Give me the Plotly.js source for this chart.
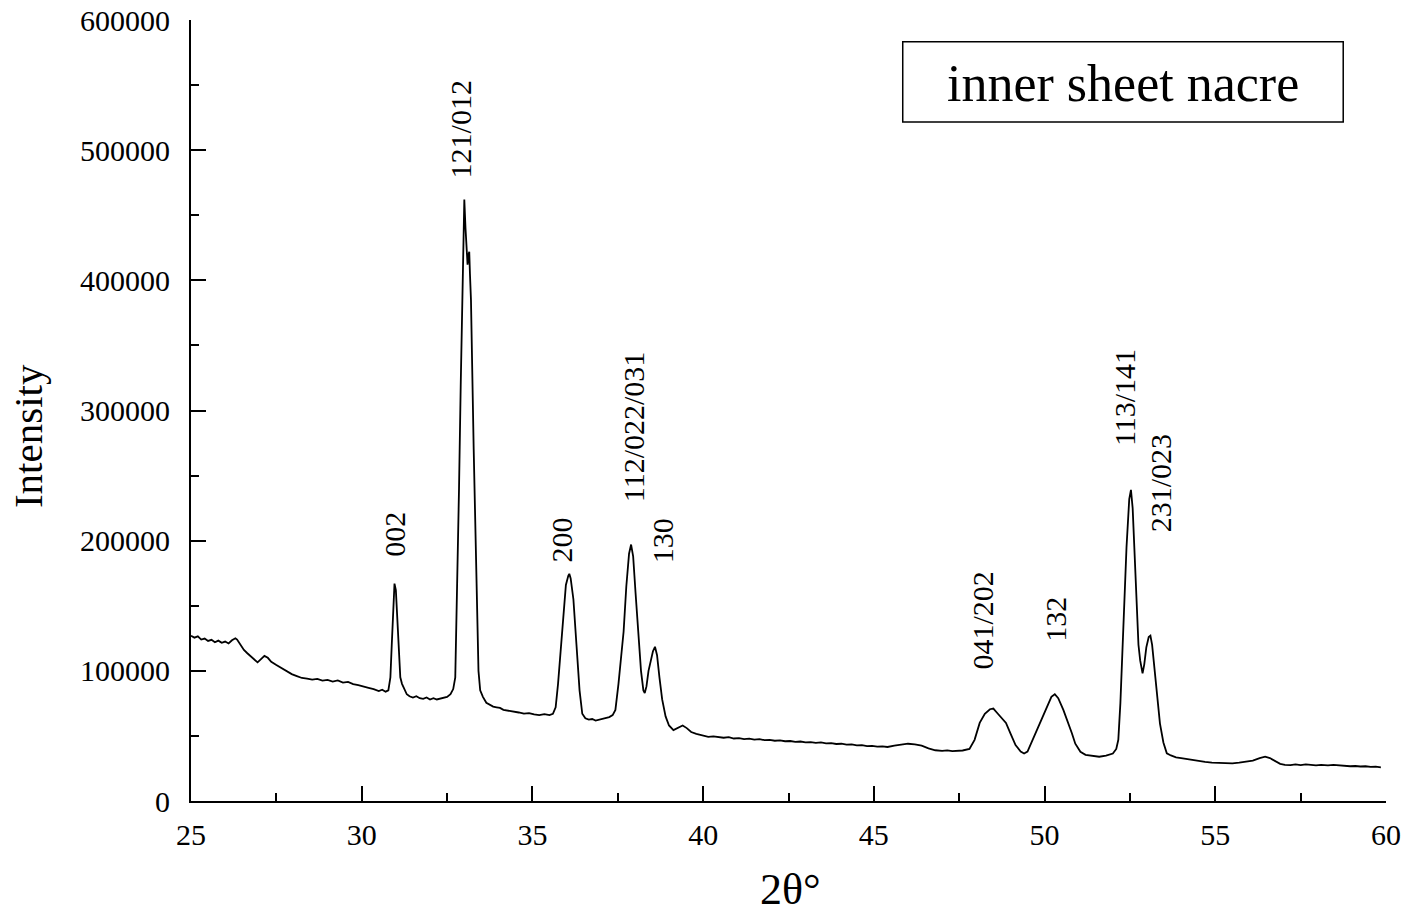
<!DOCTYPE html>
<html>
<head>
<meta charset="utf-8">
<script src="https://cdn.plot.ly/plotly-3.0.1.min.js"></script>
<style>html,body{margin:0;padding:0;background:#fff;}#chart{width:1408px;height:917px;}</style>
</head>
<body>
<div id="chart"></div>
<script>
const twoTheta = [
25.00,25.10,25.20,25.30,25.40,25.50,25.60,25.70,25.80,25.90,26.00,26.10,26.20,26.30,26.35,26.45,26.55,26.65,26.75,26.85,26.95,27.05,27.15,27.25,27.35,27.50,27.65,27.80,27.95,28.10,28.25,28.40,28.55,28.70,28.85,29.00,29.15,29.30,29.45,29.60,29.75,29.90,30.05,30.20,30.35,30.50,30.60,30.70,30.78,30.84,30.88,30.92,30.96,31.00,31.04,31.08,31.13,31.18,31.25,31.32,31.40,31.50,31.60,31.70,31.80,31.90,32.00,32.10,32.20,32.30,32.40,32.50,32.60,32.68,32.74,32.79,32.85,32.90,32.95,32.98,33.005,33.04,33.08,33.10,33.13,33.15,33.17,33.20,33.28,33.37,33.42,33.47,33.55,33.65,33.75,33.85,33.95,34.05,34.15,34.30,34.45,34.60,34.75,34.90,35.05,35.20,35.35,35.50,35.60,35.68,35.75,35.82,35.90,35.98,36.05,36.08,36.12,36.20,36.29,36.38,36.46,36.55,36.65,36.75,36.85,36.95,37.05,37.15,37.25,37.35,37.43,37.52,37.60,37.67,37.75,37.83,37.89,37.95,38.02,38.10,38.18,38.25,38.29,38.34,38.40,38.47,38.53,38.59,38.65,38.72,38.80,38.90,39.00,39.13,39.25,39.40,39.52,39.65,39.80,40.00,40.15,40.30,40.45,40.60,40.75,40.90,41.05,41.20,41.35,41.50,41.65,41.80,41.95,42.10,42.25,42.40,42.55,42.70,42.85,43.00,43.15,43.30,43.45,43.60,43.75,43.90,44.05,44.20,44.35,44.50,44.65,44.80,44.95,45.10,45.25,45.40,45.60,45.80,46.00,46.20,46.40,46.60,46.80,47.00,47.15,47.30,47.45,47.60,47.80,47.95,48.10,48.25,48.40,48.50,48.60,48.75,48.87,49.00,49.15,49.30,49.40,49.50,49.65,49.80,49.90,50.05,50.20,50.30,50.40,50.55,50.70,50.80,50.90,51.05,51.20,51.40,51.60,51.80,52.00,52.10,52.16,52.22,52.31,52.40,52.48,52.53,52.58,52.65,52.70,52.75,52.80,52.87,52.92,52.98,53.05,53.10,53.15,53.22,53.28,53.38,53.48,53.58,53.70,53.85,54.00,54.20,54.40,54.55,54.70,54.90,55.10,55.30,55.50,55.70,55.90,56.10,56.30,56.46,56.60,56.75,56.90,57.04,57.20,57.35,57.50,57.65,57.80,57.95,58.10,58.30,58.46,58.65,58.80,58.95,59.10,59.25,59.40,59.55,59.70,59.85,60.00
];
const intensity = [
127000,125500,126500,124000,124800,123000,123800,122000,123200,121500,122500,121000,123500,125000,124000,120000,116000,113500,111000,108500,106500,109000,111500,110000,107000,104500,102000,100000,97500,96000,94500,94000,93200,93800,92500,93000,91800,92600,91000,91500,89800,89000,88200,87000,86000,84500,85500,84000,85000,95000,120000,152000,167000,162000,140000,112000,95000,90000,86000,82000,80500,79500,80500,79000,78500,79500,78000,79000,78000,78500,79000,80000,82000,86000,95000,154000,240000,320000,385000,430000,462000,440000,415000,412000,420000,422000,405000,385000,270000,154000,100000,85000,80000,75500,74000,72500,72000,71500,70000,69500,68500,68000,67200,67500,66500,66000,66800,66000,67000,72000,90000,115000,145000,166000,173000,174500,171000,155000,120000,85000,67000,63500,62500,63000,61800,62500,63000,64000,64500,66000,70000,90000,115000,130000,165000,190000,197000,188000,160000,130000,100000,85000,83000,88000,100000,108000,115000,118500,112000,95000,78000,65000,58000,54500,56000,58000,56000,53000,51500,50000,49300,49700,48900,48600,49000,48000,48300,47600,47900,47200,47500,46700,47000,46300,46600,45900,46100,45400,45700,45100,45300,44700,45000,44300,44500,43800,44000,43300,43500,42700,42900,42200,42400,41700,41900,41500,42500,43500,44000,43500,42500,40500,39000,38500,38900,38300,38700,38800,40000,47000,60000,67000,70500,71000,68000,64000,60000,52000,43000,38000,36500,38000,47000,57000,63000,72000,80000,82000,79000,70000,60000,52000,44000,37800,35500,34500,34000,34800,36500,40000,47000,75000,134000,195000,232000,239000,225000,180000,140000,120000,108000,98000,105000,118000,126000,127000,120000,100000,82700,59500,45000,36600,35000,33500,33000,32000,31200,30700,30000,29500,29300,29000,28900,29500,30000,31000,33000,34000,33000,30500,28500,27700,27500,28100,27600,28200,27700,27300,27800,27400,27700,27100,27200,26700,26900,26500,26700,26200,26400,25900
];
// Peak labels (Miller indices) and their positions
const peakLabels = ["002","121/012","200","112/022/031","130","041/202","132","113/141","231/023"];
const labelX = [30.95,32.88,35.85,37.96,38.81,48.18,50.31,52.33,53.38];
const labelY = [204700,516000,200500,287500,200000,139000,139400,309600,244000];
const sampleName = "inner sheet nacre";
const xTitle = "2θ°";
const yTitle = "Intensity";

const FONT = "'Liberation Serif', 'Times New Roman', serif";

const annotations = peakLabels.map((t,i)=>({
  x: labelX[i], y: labelY[i], xref:'x', yref:'y', text: t, showarrow:false,
  textangle:-90, xanchor:'center', yanchor:'middle',
  font:{family:FONT, size:30, color:'#000'}
}));
annotations.push({
  x:0.7799, y:0.9193, xref:'paper', yref:'paper', text: sampleName, showarrow:false,
  xanchor:'center', yanchor:'middle', font:{family:FONT, size:52, color:'#000'}
});
annotations.push({
  x:-0.1364, y:0.4673, xref:'paper', yref:'paper', text: yTitle, showarrow:false,
  textangle:-90, xanchor:'center', yanchor:'middle', font:{family:FONT, size:41, color:'#000'}
});
annotations.push({
  x:0.5013, y:-0.1473, xref:'paper', yref:'paper', text: xTitle, showarrow:false,
  xanchor:'center', yanchor:'bottom', font:{family:FONT, size:44, color:'#000'}
});

const trace = {
  x: twoTheta, y: intensity, type:'scatter', mode:'lines',
  line:{color:'#000', width:1.8}, hoverinfo:'x+y', cliponaxis:false
};

const layout = {
  width:1408, height:917,
  margin:{l:191, r:22, t:20, b:116},
  paper_bgcolor:'#fff', plot_bgcolor:'#fff',
  showlegend:false,
  font:{family:FONT, color:'#000'},
  xaxis:{
    range:[25,60], dtick:5, tick0:25, ticks:'inside', ticklen:15, tickwidth:2, tickcolor:'#000',
    showline:true, linecolor:'#000', linewidth:2, showgrid:false, zeroline:false,
    tickfont:{family:FONT, size:30, color:'#000'}, ticklabelstandoff:6,
    minor:{dtick:2.5, ticks:'inside', ticklen:8, tickwidth:2, tickcolor:'#000', showgrid:false}
  },
  yaxis:{
    range:[0,600000], dtick:100000, ticks:'inside', ticklen:15, tickwidth:2, tickcolor:'#000',
    showline:true, linecolor:'#000', linewidth:2, showgrid:false, zeroline:false,
    tickfont:{family:FONT, size:30, color:'#000'}, tickformat:'d',
    ticklabelstandoff:13,
    minor:{dtick:50000, ticks:'inside', ticklen:8, tickwidth:2, tickcolor:'#000', showgrid:false}
  },
  shapes:[{
    type:'rect', xref:'paper', yref:'paper', x0:0.5956, x1:0.9642, y0:0.8695, y1:0.9722,
    line:{color:'#000', width:1.5}, fillcolor:'rgba(0,0,0,0)'
  }],
  annotations: annotations
};

Plotly.newPlot('chart', [trace], layout, {displayModeBar:false, staticPlot:true});
</script>
</body>
</html>
